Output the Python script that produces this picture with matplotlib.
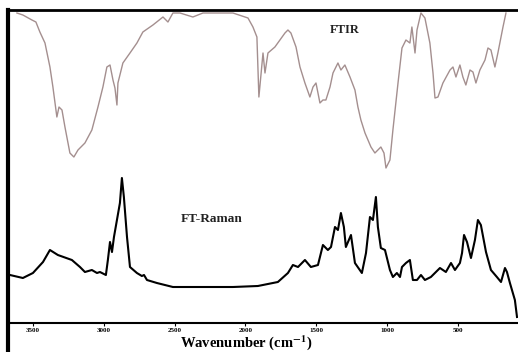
import numpy as np
import matplotlib
matplotlib.use("Agg")
import matplotlib.pyplot as plt

plt.rcParams["mathtext.fontset"] = "stix"

# FTIR trace (wavenumber cm-1, height in arbitrary units)
ftir_wn = [3613, 3571, 3507, 3479, 3451, 3415, 3380, 3359, 3331, 3316, 3295, 3274,
           3239, 3211, 3182, 3133, 3084, 3041, 3006, 2978, 2956, 2935, 2921, 2907,
           2900, 2865, 2815, 2766, 2724, 2653, 2582, 2547, 2512, 2462, 2371, 2300,
           2088, 1982, 1947, 1919, 1905, 1876, 1862, 1841, 1792, 1721, 1700, 1679,
           1643, 1615, 1580, 1545, 1523, 1502, 1474, 1453, 1432, 1403, 1382, 1347,
           1326, 1298, 1262, 1227, 1206, 1185, 1156, 1135, 1114, 1086, 1065, 1044,
           1022, 1008, 980, 959, 923, 895, 867, 839, 825, 803, 789, 761, 733, 698,
           676, 662, 641, 606, 556, 535, 514, 486, 465, 444, 415, 394, 373, 345,
           309, 288, 267, 239, 218, 182, 161]
ftir_val = [310, 308, 303, 301, 291, 280, 256, 236, 206, 216, 213, 196,
            170, 166, 173, 180, 193, 216, 236, 256, 258, 243, 235, 218,
            240, 260, 270, 280, 291, 298, 306, 301, 310, 310, 306, 310,
            310, 305, 296, 286, 226, 270, 250, 270, 276, 290, 293, 290,
            276, 256, 240, 226, 236, 240, 220, 223, 223, 236, 250, 260,
            253, 258, 246, 233, 216, 203, 190, 183, 176, 170, 173, 176,
            170, 155, 163, 193, 240, 275, 283, 280, 296, 270, 293, 310, 305, 280,
            250, 225, 226, 240, 253, 256, 246, 258, 246, 238, 253, 251, 240, 253,
            263, 275, 273, 256, 270, 296, 310]

# FT-Raman trace
raman_wn = [3662, 3571, 3500, 3429, 3380, 3324, 3225, 3168, 3133, 3084, 3048, 3027,
            2985, 2971, 2956, 2942, 2928, 2907, 2886, 2872, 2858, 2836, 2815, 2766,
            2731, 2716, 2695, 2625, 2512, 2321, 2088, 1912, 1771, 1700, 1665, 1629,
            1580, 1538, 1488, 1453, 1418, 1396, 1368, 1347, 1326, 1305, 1291, 1255,
            1227, 1178, 1149, 1121, 1100, 1079, 1065, 1044, 1015, 980, 959, 931,
            909, 895, 867, 839, 818, 789, 761, 733, 691, 627, 585, 549, 521, 486,
            471, 457, 436, 408, 380, 359, 338, 302, 267, 225, 196, 168, 154, 133,
            98, 83]
raman_val = [48, 45, 50, 61, 73, 68, 63, 56, 51, 53, 50, 51,
             48, 63, 81, 71, 86, 103, 120, 145, 126, 86, 56, 50,
             47, 48, 43, 40, 36, 36, 36, 37, 41, 50, 58, 56,
             63, 56, 58, 78, 73, 76, 96, 93, 110, 96, 76, 88,
             60, 50, 70, 106, 103, 126, 96, 75, 73, 53, 46, 50,
             46, 56, 60, 63, 43, 43, 48, 43, 46, 55, 51, 60, 53, 60,
             70, 88, 81, 65, 83, 103, 98, 71, 53, 46, 41, 55, 51, 40,
             23, 6]

ticks = [3500, 3000, 2500, 2000, 1500, 1000, 500]

fig = plt.figure(figsize=(5.18, 3.52), dpi=100)
ax = fig.add_axes([8 / 518, 0, 510 / 518, 342 / 352])

ax.plot(ftir_wn, ftir_val, color="#a48f8f", lw=1.0)
ax.plot(raman_wn, raman_val, color="black", lw=1.5)

ax.set_xlim(3676, 76)
ax.set_ylim(-29, 313)
ax.set_yticks([])
ax.set_xticks([])
for s in ["right", "bottom"]:
    ax.spines[s].set_visible(False)
ax.spines["top"].set_linewidth(2.0)
ax.spines["left"].set_linewidth(3.0)

xax = ax.secondary_xaxis(29 / 342)
xax.set_xticks(ticks)
xax.set_xticklabels([str(t) for t in ticks], fontsize=5, fontweight="bold",
                    family="Liberation Serif")
xax.tick_params(length=2, width=0.8, pad=1.5)
xax.spines["bottom"].set_linewidth(1.5)

ax.text(1298, 293, "FTIR", fontsize=9, fontweight="bold", family="Liberation Serif",
        ha="center", va="center", color="#222222")
ax.text(2236, 104, "FT-Raman", fontsize=9.5, fontweight="bold",
        family="Liberation Serif", ha="center", va="center", color="#222222")
ax.text(1996, -20, "Wavenumber (cm$^{\\mathbf{-1}}$)", fontsize=10.5, fontweight="bold",
        family="Liberation Serif", ha="center", va="center")

fig.savefig("out.png", dpi=100)
